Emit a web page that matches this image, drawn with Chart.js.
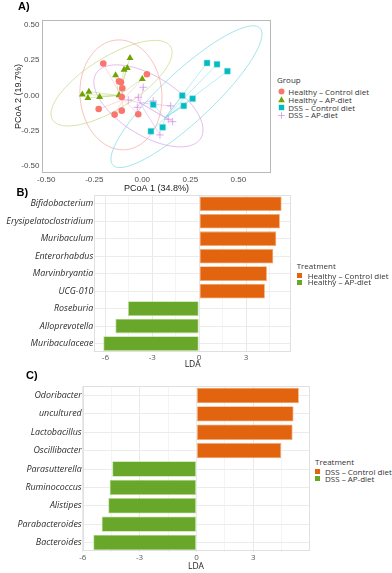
<!DOCTYPE html>
<html><head><meta charset="utf-8">
<script src="https://cdn.jsdelivr.net/npm/chart.js@4.4.1/dist/chart.umd.min.js"></script>
<style>
html,body{margin:0;padding:0;background:#fff;width:392px;height:573px;overflow:hidden;position:relative;font-family:"Open Sans","Liberation Sans",sans-serif;}
canvas{position:absolute;left:0;}
.plbl{position:absolute;font:bold 11px "Liberation Sans",Arial,sans-serif;color:#000;line-height:13px;z-index:2;}
.leg{position:absolute;font-family:"Open Sans",sans-serif;font-size:8px;color:#333;white-space:nowrap;z-index:2;}
.leg .t{line-height:8px;}
.leg .r{display:flex;align-items:center;}
.leg .m{display:flex;align-items:center;justify-content:center;}
</style>
</head><body>
<canvas id="cA" width="277" height="196" style="top:0"></canvas>
<canvas id="cB" width="292" height="182" style="top:188px"></canvas>
<canvas id="cC" width="310" height="193" style="top:380px"></canvas>
<div class="plbl" style="left:18px;top:0px">A)</div>
<div class="plbl" style="left:16.5px;top:186px">B)</div>
<div class="plbl" style="left:26px;top:368.5px">C)</div>
<div id="legA" class="leg" style="left:277px;top:76px"></div>
<div id="legB" class="leg" style="left:296.7px;top:262px"></div>
<div id="legC" class="leg" style="left:315px;top:457.7px"></div>
<script>
// ---------- Panel A data (PCoA) ----------
const groupNames = ['Healthy \u2013 Control diet', 'Healthy \u2013 AP-diet', 'DSS \u2013 Control diet', 'DSS \u2013 AP-diet'];
const healthyControlX = [-0.203, 0.024, -0.121, -0.111, -0.104, -0.107, -0.227, -0.144, -0.107, -0.021];
const healthyControlY = [0.226, 0.150, 0.101, 0.094, 0.051, -0.011, -0.096, -0.136, -0.108, -0.133];
const healthyAPX = [-0.064, -0.139, -0.095, -0.078, 0.000, -0.312, -0.278, -0.283, -0.222, -0.121];
const healthyAPY = [0.266, 0.143, 0.183, 0.195, 0.117, 0.006, 0.027, -0.018, -0.011, 0.001];
const dssControlX = [0.337, 0.389, 0.443, 0.208, 0.262, 0.216, 0.057, 0.106, 0.045];
const dssControlY = [0.230, 0.221, 0.172, -0.001, -0.023, -0.074, -0.065, -0.226, -0.254];
const dssAPX = [0.005, -0.021, -0.073, -0.026, 0.057, 0.148, 0.135, 0.158, 0.092];
const dssAPY = [0.058, -0.013, -0.032, -0.084, -0.039, -0.074, -0.169, -0.186, -0.280];
// group centroids that the spider lines converge on
const spiderCenterX = [-0.100, -0.123, 0.118, -0.012];
const spiderCenterY = [-0.030, 0.000, -0.160, -0.053];
// confidence ellipses: centre + two conjugate half-axis vectors (data units)
const ellipseCenterX = [-0.111, -0.160, 0.230, 0.032];
const ellipseCenterY = [0.004, 0.087, -0.009, -0.074];
const ellipseAxisU = [[0.2135, -0.019], [0.315, 0.218], [0.393, 0.443], [0.284, -0.170]];
const ellipseAxisV = [[0, 0.389], [0, 0.211], [0, 0.237], [0, 0.236]];
const pcoaTicks = [-0.5, -0.25, 0, 0.25, 0.5];

// ---------- Panel B data ----------
const taxaB = ['Bifidobacterium', 'Erysipelatoclostridium', 'Muribaculum', 'Enterorhabdus', 'Marvinbryantia', 'UCG-010', 'Roseburia', 'Alloprevotella', 'Muribaculaceae'];
const ldaB = [5.28, 5.17, 4.94, 4.75, 4.34, 4.21, -4.55, -5.36, -6.13];
const treatmentB = ['Healthy \u2013 Control diet', 'Healthy \u2013 AP-diet'];

// ---------- Panel C data ----------
const taxaC = ['Odoribacter', 'uncultured', 'Lactobacillus', 'Oscillibacter', 'Parasutterella', 'Ruminococcus', 'Alistipes', 'Parabacteroides', 'Bacteroides'];
const ldaC = [5.40, 5.12, 5.07, 4.47, -4.44, -4.58, -4.65, -5.00, -5.44];
const treatmentC = ['DSS \u2013 Control diet', 'DSS \u2013 AP-diet'];

const ldaGridTicks = [-6, -4.5, -3, -1.5, 0, 1.5, 3, 4.5];
const ldaLabelTicks = [-6, -3, 0, 3];

// ---------- styles ----------
const ptColors = ['#F8766D', '#6fa300', '#00BCC2', 'rgba(212,140,228,0.75)'];
const ellColors = ['rgba(246,160,152,0.65)', 'rgba(190,214,120,0.65)', 'rgba(110,215,222,0.65)', 'rgba(214,150,230,0.65)'];
const spiderColors = ['rgba(248,160,152,0.4)', 'rgba(170,205,90,0.45)', 'rgba(90,210,218,0.45)', 'rgba(214,150,230,0.5)'];
const barPos = '#E2640F', barPosEdge = '#f4ac74', barNeg = '#69a72a', barNeg2 = '#b6da8e';

const zip = (xs, ys) => xs.map((v, i) => ({x: v, y: ys[i]}));

const frame = {
  id: 'frame',
  afterDatasetsDraw(chart, args, opts) {
    const {ctx, chartArea: a} = chart;
    ctx.save();
    ctx.strokeStyle = opts.color || '#ccc';
    ctx.lineWidth = 1;
    ctx.strokeRect(Math.round(a.left) + 0.5, Math.round(a.top) + 0.5, Math.round(a.width) - 1, Math.round(a.height) - 1);
    ctx.restore();
  }
};

const pcoaDecor = {
  id: 'pcoaDecor',
  beforeDatasetsDraw(chart) {
    const {ctx, chartArea: a, scales: {x, y}} = chart;
    ctx.save();
    ctx.beginPath(); ctx.rect(a.left, a.top, a.width, a.height); ctx.clip();
    chart.data.datasets.forEach((ds, i) => {
      const cx = x.getPixelForValue(spiderCenterX[i]);
      const cy = y.getPixelForValue(spiderCenterY[i]);
      ctx.strokeStyle = spiderColors[i];
      ctx.lineWidth = 0.9;
      ds.data.forEach(p => {
        ctx.beginPath();
        ctx.moveTo(cx, cy);
        ctx.lineTo(x.getPixelForValue(p.x), y.getPixelForValue(p.y));
        ctx.stroke();
      });
    });
    chart.data.datasets.forEach((ds, i) => {
      ctx.strokeStyle = ellColors[i];
      ctx.lineWidth = 1;
      ctx.beginPath();
      const n = 180;
      for (let k = 0; k <= n; k++) {
        const t = k / n * Math.PI * 2;
        const ex = ellipseCenterX[i] + ellipseAxisU[i][0] * Math.cos(t) + ellipseAxisV[i][0] * Math.sin(t);
        const ey = ellipseCenterY[i] + ellipseAxisU[i][1] * Math.cos(t) + ellipseAxisV[i][1] * Math.sin(t);
        const px = x.getPixelForValue(ex), py = y.getPixelForValue(ey);
        if (k === 0) ctx.moveTo(px, py); else ctx.lineTo(px, py);
      }
      ctx.closePath();
      ctx.stroke();
    });
    ctx.restore();
  }
};

const tickFontA = {family: '"Liberation Sans", Arial, sans-serif', size: 8};
const titleFontA = {family: '"Liberation Sans", Arial, sans-serif', size: 9};

new Chart(document.getElementById('cA'), {
  type: 'scatter',
  data: {datasets: [
    {label: groupNames[0], data: zip(healthyControlX, healthyControlY), pointStyle: 'circle', pointRadius: 3.3, backgroundColor: ptColors[0], borderColor: ptColors[0], borderWidth: 0},
    {label: groupNames[1], data: zip(healthyAPX, healthyAPY), pointStyle: 'triangle', pointRadius: 4, backgroundColor: ptColors[1], borderColor: ptColors[1], borderWidth: 0},
    {label: groupNames[2], data: zip(dssControlX, dssControlY), pointStyle: 'rect', pointRadius: 4.2, backgroundColor: ptColors[2], borderColor: '#8fdde0', borderWidth: 0.5},
    {label: groupNames[3], data: zip(dssAPX, dssAPY), pointStyle: 'cross', pointRadius: 3.8, backgroundColor: ptColors[3], borderColor: ptColors[3], borderWidth: 1}
  ]},
  options: {
    responsive: false, animation: false, events: [],
    layout: {padding: {top: 20, right: 6, left: 0, bottom: 0}},
    plugins: {legend: {display: false}, tooltip: {enabled: false}, frame: {color: '#b8b8b8'}},
    scales: {
      x: {
        type: 'linear', min: -0.522, max: 0.670,
        afterBuildTicks: s => { s.ticks = pcoaTicks.map(v => ({value: v})); },
        afterFit: s => { s.height = 23; },
        grid: {display: false, drawTicks: false}, border: {display: false},
        ticks: {padding: 2, font: tickFontA, color: '#4d4d4d', callback: v => Number(v).toFixed(2)},
        title: {display: true, text: 'PCoA 1 (34.8%)', font: titleFontA, color: '#1a1a1a', padding: {top: 0, bottom: 2.5}}
      },
      y: {
        type: 'linear', min: -0.550, max: 0.535,
        afterBuildTicks: s => { s.ticks = pcoaTicks.map(v => ({value: v})); },
        afterFit: s => { s.width = 42; },
        grid: {display: false, drawTicks: false}, border: {display: false},
        ticks: {padding: 2.5, font: tickFontA, color: '#4d4d4d', callback: v => Number(v).toFixed(2)},
        title: {display: true, text: 'PCoA 2 (19.7%)', font: titleFontA, color: '#1a1a1a', padding: {top: 13.5, bottom: 0}}
      }
    }
  },
  plugins: [pcoaDecor, frame]
});

function ldaChart(id, labels, values, xmin, xmax, padTop, padRight, yWidth, xHeight, titleBottom) {
  return new Chart(document.getElementById(id), {
    type: 'bar',
    data: {labels: labels, datasets: [{
      data: values,
      backgroundColor: values.map(v => v > 0 ? barPos : barNeg),
      borderColor: values.map(v => v > 0 ? barPosEdge : barNeg2),
      borderWidth: 0.8, borderSkipped: false,
      barPercentage: 0.84, categoryPercentage: 1
    }]},
    options: {
      indexAxis: 'y', responsive: false, animation: false, events: [],
      layout: {padding: {top: padTop, right: padRight, left: 0, bottom: 0}},
      plugins: {legend: {display: false}, tooltip: {enabled: false}, frame: {color: '#e0e0e0'}},
      scales: {
        x: {
          type: 'linear', min: xmin, max: xmax,
          afterBuildTicks: s => { s.ticks = ldaGridTicks.map(v => ({value: v})); },
          afterFit: s => { s.height = xHeight; },
          grid: {drawTicks: false, color: c => (c.tick && c.tick.value % 3 === 0) ? '#e9e9e9' : '#f4f4f4', lineWidth: 1},
          border: {display: false},
          ticks: {padding: 1, font: {family: '"Open Sans", sans-serif', size: 8}, color: '#555', callback: v => ldaLabelTicks.includes(Number(v)) ? String(v) : ''},
          title: {display: true, text: 'LDA', font: {family: '"Open Sans", sans-serif', size: 8.5}, color: '#222', padding: {top: 0, bottom: titleBottom}}
        },
        y: {
          type: 'category',
          afterFit: s => { s.width = yWidth; },
          grid: {offset: false, drawTicks: false, color: '#ececec'},
          border: {display: false},
          ticks: {autoSkip: false, padding: 1, font: {family: '"Open Sans", sans-serif', style: 'italic', size: 8.9}, color: '#2b2b2b'}
        }
      }
    },
    plugins: [frame]
  });
}

ldaChart('cB', taxaB, ldaB, -6.71, 5.88, 7, 1, 94.3, 17.7, 0);
ldaChart('cC', taxaC, ldaC, -6.0, 5.95, 6, 0.7, 82.7, 21.3, 1.2);

// ---------- HTML legends ----------
function markerSVG(kind, color) {
  const s = '<svg width="7" height="7" viewBox="0 0 7 7">';
  if (kind === 'circle') return s + '<circle cx="3.5" cy="3.5" r="3" fill="' + color + '"/></svg>';
  if (kind === 'triangle') return s + '<polygon points="3.5,0.2 6.8,6.2 0.2,6.2" fill="' + color + '"/></svg>';
  if (kind === 'rect') return s + '<rect x="0.8" y="0.8" width="5.4" height="5.4" fill="' + color + '"/></svg>';
  if (kind === 'cross') return s + '<path d="M3.5 0.2V6.8M0.2 3.5H6.8" stroke="' + color + '" stroke-width="1"/></svg>';
  return s + '</svg>';
}
function buildLegend(id, title, names, markers, colors, markW, gap, rowH, titleGap, sq) {
  let h = '<div class="t" style="margin-bottom:' + titleGap + 'px">' + title + '</div>';
  names.forEach((n, i) => {
    const m = sq ? '<span style="display:inline-block;width:' + sq + 'px;height:' + sq + 'px;background:' + colors[i] + '"></span>' : markerSVG(markers[i], colors[i]);
    h += '<div class="r" style="height:' + rowH + 'px;line-height:' + rowH + 'px"><span class="m" style="width:' + markW + 'px">' + m + '</span><span style="margin-left:' + gap + 'px">' + n + '</span></div>';
  });
  document.getElementById(id).innerHTML = h;
}
buildLegend('legA', 'Group', groupNames, ['circle', 'triangle', 'rect', 'cross'], ptColors, 8, 3.3, 7.8, 4, 0);
buildLegend('legB', 'Treatment', treatmentB, null, [barPos, barNeg], 5, 6, 6.8, 2.5, 5);
buildLegend('legC', 'Treatment', treatmentC, null, [barPos, barNeg], 5, 5, 7.2, 2.5, 5);
</script>
</body></html>
